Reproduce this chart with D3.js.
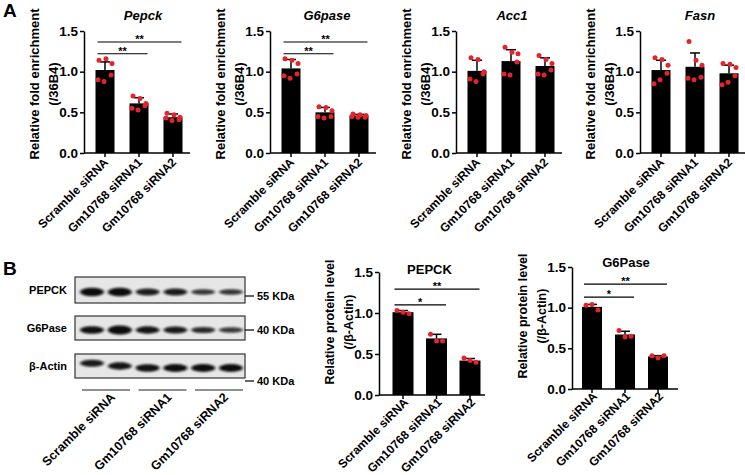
<!DOCTYPE html>
<html><head><meta charset="utf-8">
<script src="https://cdn.jsdelivr.net/npm/d3@7"></script>
<style>
body{margin:0;background:#fff}
svg{display:block}
text{font-family:"Liberation Sans",Arial,Helvetica,sans-serif;font-weight:bold;fill:#000}
</style>
</head><body>
<svg id="c" width="745" height="475"></svg>
<script>
// ---------------- DATA ----------------
const groups = ["Scramble siRNA", "Gm10768 siRNA1", "Gm10768 siRNA2"];
const yTicks = [0, 0.5, 1.0, 1.5];

// Panel A: ChIP-qPCR relative fold enrichment (/36B4)
const pepckMean = [1.02, 0.61, 0.44];
const pepckSD   = [0.10, 0.07, 0.04];
const pepckPts  = [[1.14, 1.16, 1.10, 0.96, 0.88, 0.90], [0.70, 0.67, 0.61, 0.58, 0.53, 0.55], [0.49, 0.47, 0.44, 0.41, 0.40, 0.43]];

const g6pMean = [1.04, 0.50, 0.46];
const g6pSD   = [0.11, 0.06, 0.015];
const g6pPts  = [[1.16, 1.14, 1.10, 0.97, 0.92, 0.95], [0.57, 0.56, 0.52, 0.45, 0.43, 0.45], [0.48, 0.47, 0.46, 0.44, 0.44, 0.45]];

const acc1Mean = [1.01, 1.13, 1.07];
const acc1SD   = [0.13, 0.14, 0.10];
const acc1Pts  = [[1.17, 1.15, 1.00, 0.97, 0.88, 0.91], [1.30, 1.24, 1.22, 1.12, 0.96, 0.97], [1.20, 1.15, 1.10, 1.02, 0.96, 0.97]];

const fasnMean = [1.02, 1.06, 0.98];
const fasnSD   = [0.12, 0.17, 0.10];
const fasnPts  = [[1.17, 1.15, 1.08, 0.98, 0.90, 0.85], [1.37, 1.14, 1.08, 0.93, 0.90, 0.92], [1.10, 1.09, 1.05, 0.95, 0.87, 0.84]];

// Panel B: western blot quantification (/β-Actin)
const pepckProtMean = [1.01, 0.69, 0.42];
const pepckProtSD   = [0.02, 0.05, 0.025];
const pepckProtPts  = [[1.03, 1.01, 0.99], [0.74, 0.66, 0.66], [0.45, 0.42, 0.40]];

const g6pProtMean = [1.01, 0.67, 0.40];
const g6pProtSD   = [0.03, 0.04, 0.01];
const g6pProtPts  = [[1.03, 1.04, 0.97], [0.72, 0.64, 0.65], [0.41, 0.38, 0.41]];

// significance annotations: [from group, to group, label, height]
const sigA  = [[0, 2, "**", 1.365], [0, 1, "**", 1.22]];
const sigBP = [[0, 2, "**", 1.29], [0, 1, "*", 1.10]];
const sigBG = [[0, 2, "**", 1.29], [0, 1, "*", 1.13]];

// Western blot band intensities (relative), 6 lanes (2 per group)
const blotLanes = [1, 2, 3, 4, 5, 6];
const blotRows  = ["PEPCK", "G6Pase", "β-Actin"];
const blotMarkers = ["55 KDa", "40 KDa", "40 KDa"];
const bandPEPCK = [1.0, 1.05, 0.72, 0.75, 0.48, 0.50];
const bandG6P   = [0.85, 1.1, 0.8, 0.75, 0.6, 0.45];
const bandActin = [0.75, 0.8, 0.85, 0.9, 0.9, 0.9];
const bandActinShift = [-0.6, -0.25, 0, 0, 0, 0];

// ---------------- DRAWING ----------------
const svg = d3.select("#c");
const RED = "#e3242b";

function barChart(cfg) {
  const g = svg.append("g");
  const x = d3.scalePoint().domain(groups).range([cfg.ax + cfg.c0, cfg.ax + cfg.c2]);
  const y = d3.scaleLinear().domain([0, 1.5]).range([cfg.y0, cfg.y1]);
  const bw = cfg.bw;

  // bars
  g.selectAll("rect.bar").data(cfg.mean).join("rect")
    .attr("x", (d, i) => x(groups[i]) - bw / 2)
    .attr("y", d => y(d))
    .attr("width", bw)
    .attr("height", d => y(0) - y(d))
    .attr("fill", "#000");

  // error bars (upward)
  cfg.mean.forEach((m, i) => {
    const cx = x(groups[i]);
    g.append("line").attr("x1", cx).attr("x2", cx).attr("y1", y(m)).attr("y2", y(m + cfg.sd[i]))
      .attr("stroke", "#000").attr("stroke-width", 1.5);
    g.append("line").attr("x1", cx - 5).attr("x2", cx + 5).attr("y1", y(m + cfg.sd[i])).attr("y2", y(m + cfg.sd[i]))
      .attr("stroke", "#000").attr("stroke-width", 1.5);
  });

  // points
  const jit6 = [-6, 1, 7, 6, -1, -7];
  const jit3 = [-6, 0, 6];
  cfg.pts.forEach((arr, i) => {
    const cx = x(groups[i]);
    const jit = arr.length === 3 ? jit3 : jit6;
    g.selectAll(null).data(arr).join("circle")
      .attr("cx", (d, k) => cx + jit[k])
      .attr("cy", d => y(d))
      .attr("r", 2.5)
      .attr("fill", RED);
  });

  // y axis
  const yAxis = d3.axisLeft(y).tickValues(yTicks).tickFormat(d3.format(".1f")).tickSize(4).tickSizeOuter(0).tickPadding(2);
  const ya = g.append("g").attr("transform", `translate(${cfg.ax},0)`).call(yAxis);
  ya.select(".domain").attr("stroke-width", 1.5);
  ya.selectAll(".tick line").attr("stroke-width", 1.5);
  ya.selectAll(".tick text").style("font-size", cfg.tickFs + "px").style("font-family", '"Liberation Sans",Arial,sans-serif').style("font-weight", "bold");

  // x axis
  g.append("line").attr("x1", cfg.ax).attr("x2", cfg.ax + cfg.xEnd).attr("y1", y(0)).attr("y2", y(0))
    .attr("stroke", "#000").attr("stroke-width", 1.5);
  groups.forEach(gr => {
    g.append("line").attr("x1", x(gr)).attr("x2", x(gr)).attr("y1", y(0)).attr("y2", y(0) + 4)
      .attr("stroke", "#000").attr("stroke-width", 1.5);
    g.append("text")
      .attr("transform", `translate(${x(gr) + cfg.lblDx},${y(0) + cfg.lblDy}) rotate(-45)`)
      .attr("text-anchor", "end")
      .style("font-size", cfg.lblFs + "px")
      .text(gr);
  });

  // title
  g.append("text").attr("x", x(groups[1]) + cfg.titleDx).attr("y", cfg.titleY)
    .attr("text-anchor", "middle").style("font-size", cfg.titleFs + "px")
    .style("font-style", cfg.italic ? "italic" : "normal")
    .text(cfg.title);

  // y label
  cfg.ylab.forEach((t, k) => {
    g.append("text")
      .attr("transform", `translate(${cfg.ax + cfg.ylabX[k]},${cfg.ylabY}) rotate(-90)`)
      .attr("text-anchor", "middle").attr("dy", "0.35em")
      .style("font-size", cfg.ylabFs + "px")
      .text(t);
  });

  // significance
  cfg.sig.forEach(([a, b, lab, h]) => {
    const xa = x(groups[a]) - bw / 2 + 2, xb = x(groups[b]) + bw / 2 - 1;
    g.append("line").attr("x1", xa).attr("x2", xb).attr("y1", y(h)).attr("y2", y(h))
      .attr("stroke", "#000").attr("stroke-width", 1.2);
    g.append("text").attr("x", (xa + xb) / 2).attr("y", y(h) + 1)
      .attr("text-anchor", "middle").style("font-size", "11px").text(lab);
  });
}

const axA = [84, 270, 456, 640];
const commonA = { y0: 153, y1: 31, c0: 21, c2: 89, bw: 19, xEnd: 106, tickFs: 13.5, lblFs: 12, lblDx: 4, lblDy: 10,
  titleY: 20, titleFs: 13, italic: true, ylab: ["Relative fold enrichment", "(/36B4)"], ylabY: 84, ylabFs: 13, sig: [],
  ylabX: [-50, -31] };

barChart(Object.assign({}, commonA, { ax: axA[0], title: "Pepck", mean: pepckMean, sd: pepckSD, pts: pepckPts, sig: sigA, titleDx: 4 }));
barChart(Object.assign({}, commonA, { ax: axA[1], title: "G6pase", mean: g6pMean, sd: g6pSD, pts: g6pPts, sig: sigA, titleDx: 2 }));
barChart(Object.assign({}, commonA, { ax: axA[2], title: "Acc1", mean: acc1Mean, sd: acc1SD, pts: acc1Pts, titleDx: 1 }));
barChart(Object.assign({}, commonA, { ax: axA[3], title: "Fasn", mean: fasnMean, sd: fasnSD, pts: fasnPts, titleDx: 5 }));

const commonB = { bw: 20, xEnd: 106, tickFs: 13.5, lblFs: 12, lblDx: 6, lblDy: 8,
  titleFs: 13, italic: false, ylab: ["Relative protein level", "(/β-Actin)"], ylabFs: 12.5, ylabX: [-49, -30] };
barChart(Object.assign({}, commonB, { ax: 379, y0: 395, y1: 272, c0: 24, c2: 91, bw: 21, title: "PEPCK", titleY: 274, titleDx: -7,
  mean: pepckProtMean, sd: pepckProtSD, pts: pepckProtPts, sig: sigBP, ylabY: 322 }));
barChart(Object.assign({}, commonB, { ax: 572, y0: 389, y1: 267, c0: 20, c2: 86, title: "G6Pase", titleY: 267, titleDx: 1,
  mean: g6pProtMean, sd: g6pProtSD, pts: g6pProtPts, sig: sigBG, ylabY: 316 }));

// panel letters
svg.append("text").attr("x", 3).attr("y", 17).style("font-size", "19px").text("A");
svg.append("text").attr("x", 3).attr("y", 275).style("font-size", "19px").text("B");

// ---------------- Western blot ----------------
const defs = svg.append("defs");
defs.append("filter").attr("id", "blur").attr("x", "-30%").attr("y", "-100%").attr("width", "160%").attr("height", "300%")
  .append("feGaussianBlur").attr("stdDeviation", "1.6 1.1");

const laneX = d3.scalePoint().domain(blotLanes).range([92, 231]);
const boxes = [
  { top: 277, h: 26, band: bandPEPCK, cy: 292, marker: 296 },
  { top: 316, h: 24, band: bandG6P, cy: 330, marker: 330 },
  { top: 354, h: 24, band: bandActin, cy: 368, marker: 381, shift: bandActinShift }
];
const gb = svg.append("g");
boxes.forEach((b, r) => {
  gb.append("rect").attr("x", 75).attr("y", b.top).attr("width", 170).attr("height", b.h)
    .attr("fill", "#e6e6e6").attr("stroke", "#333").attr("stroke-width", 1.2);
  gb.selectAll(null).data(b.band).join("ellipse")
    .attr("cx", (d, i) => laneX(blotLanes[i]))
    .attr("cy", (d, i) => b.cy + (b.shift ? b.shift[i] * 8 : 0))
    .attr("rx", 12)
    .attr("ry", d => 1.4 + d * 2.8)
    .attr("fill", "#0a0a0a")
    .attr("opacity", d => Math.min(1, 0.6 + d * 0.45))
    .attr("filter", "url(#blur)");
  gb.append("text").attr("x", 67).attr("y", b.top + b.h / 2).attr("dy", "0.35em")
    .attr("text-anchor", "end").style("font-size", "11px").text(blotRows[r]);
  gb.append("line").attr("x1", 245).attr("x2", 254).attr("y1", b.marker).attr("y2", b.marker)
    .attr("stroke", "#000").attr("stroke-width", 1.2);
  gb.append("text").attr("x", 257).attr("y", b.marker).attr("dy", "0.35em")
    .style("font-size", "11px").text(blotMarkers[r]);
});
// group underlines and labels
const grpX = d3.scalePoint().domain(groups).range([106, 219]);
groups.forEach(gr => {
  gb.append("line").attr("x1", grpX(gr) - 24).attr("x2", grpX(gr) + 24).attr("y1", 390).attr("y2", 390)
    .attr("stroke", "#222").attr("stroke-width", 1.2);
  gb.append("text").attr("transform", `translate(${grpX(gr) + 10},${398}) rotate(-45)`)
    .attr("text-anchor", "end").style("font-size", "12.5px").text(gr);
});
</script>
</body></html>
